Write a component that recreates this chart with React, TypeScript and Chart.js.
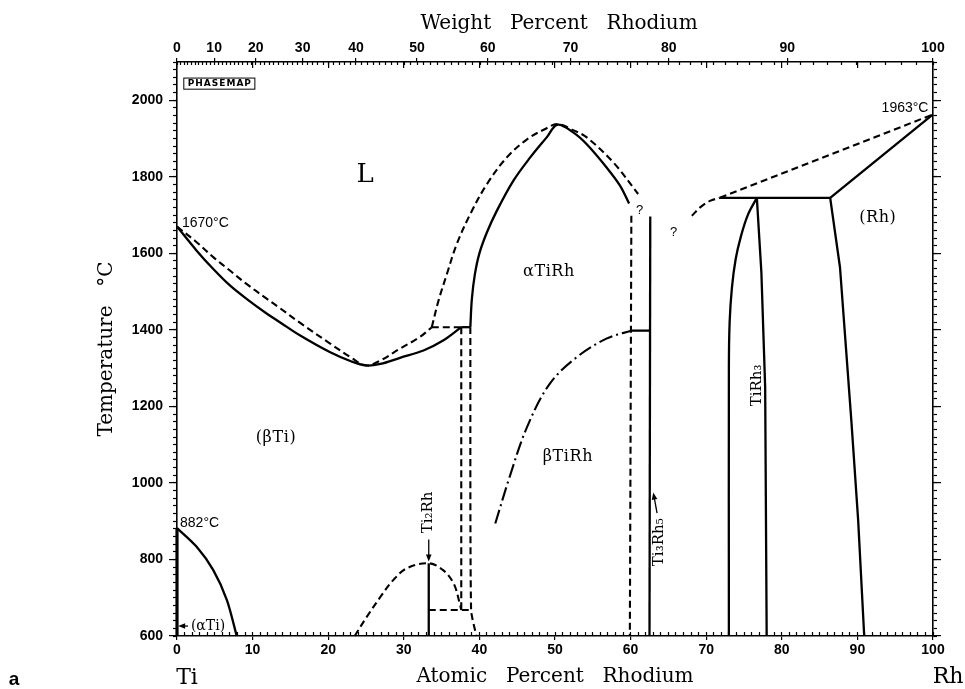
import React, { useEffect, useRef } from 'react';
import { Chart, registerables } from 'chart.js';

Chart.register(...registerables);

// ---------- axes ----------
const atomicTicks = [0, 10, 20, 30, 40, 50, 60, 70, 80, 90, 100];
const weightTicks = [0, 10, 20, 30, 40, 50, 60, 70, 80, 90, 100];
const temperatureTicks = [600, 800, 1000, 1200, 1400, 1600, 1800, 2000];
const MASS_TI = 47.867;
const MASS_RH = 102.906;

// ---------- phase boundaries (x: at.% Rh, t: °C) ----------
const liquidusLeftX = [0, 2.6, 4.8, 7.0, 9.2, 11.9, 13.6, 16.3, 20.2, 23.0, 25.0, 26.9, 29.5, 32.1, 33.7];
const liquidusLeftT = [1670, 1629, 1590, 1555, 1520, 1481, 1457, 1418, 1365, 1328, 1307, 1320, 1351, 1381, 1407];

const solidusLeftX = [0, 2.6, 4.8, 7.0, 9.2, 11.9, 13.6, 16.3, 20.2, 23.0, 25.0, 26.9, 29.5, 32.6, 35.2, 37.6];
const solidusLeftT = [1670, 1607, 1559, 1516, 1481, 1442, 1420, 1385, 1342, 1318, 1307, 1311, 1327, 1346, 1372, 1407];

const liquidusTiRhX = [33.7, 34.6, 35.7, 37.0, 38.8, 41.0, 43.6, 46.3, 48.9, 50.3, 52.4, 54.2, 57.7, 61.0];
const liquidusTiRhT = [1407, 1477, 1546, 1624, 1703, 1781, 1850, 1898, 1927, 1938, 1922, 1903, 1838, 1755];

const solidusTiRhX = [38.8, 39.0, 39.4, 40.0, 41.0, 42.3, 44.5, 46.7, 48.9, 50.3, 52.4, 54.2, 56.8, 58.6, 59.8];
const solidusTiRhT = [1407, 1480, 1545, 1600, 1655, 1711, 1790, 1850, 1903, 1936, 1916, 1885, 1825, 1777, 1730];

const peritecticDashX = [33.7, 37.6];
const peritecticDashT = [1407, 1407];
const peritecticSolidX = [37.6, 38.8];
const peritecticSolidT = [1407, 1407];

const ti2RhLeftX = [37.6, 37.6];
const ti2RhLeftT = [1407, 668];
const tiRhLeftX = [38.8, 38.9, 39.6];
const tiRhLeftT = [1407, 668, 600];

const ti2RhDomeX = [23.5, 25.1, 26.9, 28.6, 30.4, 33.3, 35.2, 36.6, 37.4, 37.6];
const ti2RhDomeT = [600, 650, 702, 746, 777, 790, 772, 737, 685, 668];
const ti2RhLineX = [33.3, 33.3];
const ti2RhLineT = [600, 790];
const eutectoidX = [33.3, 38.9];
const eutectoidT = [668, 668];

const alphaTiX = [0, 2.6, 4.8, 6.6, 7.9];
const alphaTiT = [882, 833, 772, 694, 600];
const alphaTiEdgeX = [0, 0];
const alphaTiEdgeT = [600, 882];

const betaTiRhX = [42.1, 44.0, 46.3, 49.3, 52.9, 56.8, 60.1];
const betaTiRhT = [894, 1016, 1146, 1259, 1329, 1377, 1398];
const transitionTieX = [60.1, 62.6];
const transitionTieT = [1398, 1398];

const tiRhRightX = [60.1, 59.9];
const tiRhRightT = [1698, 600];
const ti3Rh5X = [62.6, 62.5];
const ti3Rh5T = [1696, 600];

const tiRh3LeftX = [73.0, 73.0, 73.1, 73.4, 73.9, 74.6, 75.5, 76.7];
const tiRh3LeftT = [600, 1300, 1420, 1510, 1585, 1645, 1700, 1745];
const tiRh3RightX = [76.7, 77.3, 77.8, 78.0];
const tiRh3RightT = [1745, 1550, 1250, 600];

const peritecticRhX = [71.8, 86.4];
const peritecticRhT = [1745, 1745];
const rhSolvusX = [86.4, 87.7, 89.2, 90.1, 90.9];
const rhSolvusT = [1745, 1563, 1163, 903, 600];
const rhSolidusX = [86.4, 100];
const rhSolidusT = [1745, 1963];
const rhLiquidusCurveX = [68.1, 69.2, 70.5, 71.8];
const rhLiquidusCurveT = [1698, 1720, 1737, 1745];
const rhLiquidusX = [71.8, 100];
const rhLiquidusT = [1745, 1963];

type Style = 'solid' | 'dash' | 'dashdot' | 'heavy';
const curves: { x: number[]; t: number[]; style: Style; tension: number }[] = [
  { x: liquidusLeftX, t: liquidusLeftT, style: 'dash', tension: 0.35 },
  { x: solidusLeftX, t: solidusLeftT, style: 'solid', tension: 0.35 },
  { x: liquidusTiRhX, t: liquidusTiRhT, style: 'dash', tension: 0.35 },
  { x: solidusTiRhX, t: solidusTiRhT, style: 'solid', tension: 0.35 },
  { x: peritecticDashX, t: peritecticDashT, style: 'dash', tension: 0 },
  { x: peritecticSolidX, t: peritecticSolidT, style: 'solid', tension: 0 },
  { x: ti2RhLeftX, t: ti2RhLeftT, style: 'dash', tension: 0 },
  { x: tiRhLeftX, t: tiRhLeftT, style: 'dash', tension: 0.2 },
  { x: ti2RhDomeX, t: ti2RhDomeT, style: 'dash', tension: 0.35 },
  { x: ti2RhLineX, t: ti2RhLineT, style: 'solid', tension: 0 },
  { x: eutectoidX, t: eutectoidT, style: 'dash', tension: 0 },
  { x: alphaTiX, t: alphaTiT, style: 'solid', tension: 0.3 },
  { x: alphaTiEdgeX, t: alphaTiEdgeT, style: 'heavy', tension: 0 },
  { x: betaTiRhX, t: betaTiRhT, style: 'dashdot', tension: 0.35 },
  { x: transitionTieX, t: transitionTieT, style: 'solid', tension: 0 },
  { x: tiRhRightX, t: tiRhRightT, style: 'dash', tension: 0 },
  { x: ti3Rh5X, t: ti3Rh5T, style: 'solid', tension: 0 },
  { x: tiRh3LeftX, t: tiRh3LeftT, style: 'solid', tension: 0.35 },
  { x: tiRh3RightX, t: tiRh3RightT, style: 'solid', tension: 0 },
  { x: peritecticRhX, t: peritecticRhT, style: 'solid', tension: 0 },
  { x: rhSolvusX, t: rhSolvusT, style: 'solid', tension: 0 },
  { x: rhSolidusX, t: rhSolidusT, style: 'solid', tension: 0 },
  { x: rhLiquidusCurveX, t: rhLiquidusCurveT, style: 'dash', tension: 0.35 },
  { x: rhLiquidusX, t: rhLiquidusT, style: 'dash', tension: 0 },
];

// ---------- annotations ----------
const SERIF = '"DejaVu Serif", "Liberation Serif", serif';
const SANS = '"Liberation Sans", Arial, sans-serif';

type Note = { text: string; x: number; t: number; font: string; align?: CanvasTextAlign; rotate?: boolean; spacing?: number };
const notes: Note[] = [
  { text: 'L', x: 24.9, t: 1803, font: `26px ${SERIF}` },
  { text: 'αTiRh', x: 49.2, t: 1552, font: `16px ${SERIF}`, spacing: 0.6 },
  { text: '(βTi)', x: 13.1, t: 1119, font: `16px ${SERIF}`, spacing: 0.6 },
  { text: 'βTiRh', x: 51.7, t: 1067, font: `16px ${SERIF}`, spacing: 0.6 },
  { text: '(Rh)', x: 92.7, t: 1693, font: `16px ${SERIF}`, spacing: 0.6 },
  { text: '1670°C', x: 0.65, t: 1680, font: `14px ${SANS}`, align: 'left' },
  { text: '882°C', x: 0.4, t: 895, font: `14px ${SANS}`, align: 'left' },
  { text: '1963°C', x: 99.4, t: 1980, font: `14px ${SANS}`, align: 'right' },
  { text: '?', x: 61.2, t: 1711, font: `13px ${SANS}` },
  { text: '?', x: 65.7, t: 1655, font: `13px ${SANS}` },
  { text: '(αTi)', x: 4.1, t: 626, font: `14px ${SERIF}` },
  { text: 'Ti₂Rh', x: 33.2, t: 923, font: `15px ${SERIF}`, rotate: true },
  { text: 'Ti₃Rh₅', x: 63.8, t: 845, font: `15px ${SERIF}`, rotate: true },
  { text: 'TiRh₃', x: 76.7, t: 1255, font: `15px ${SERIF}`, rotate: true },
];

const arrows: { from: [number, number]; to: [number, number] }[] = [
  { from: [33.3, 852], to: [33.3, 795] },
  { from: [63.5, 921], to: [63.0, 975] },
  { from: [1.45, 626], to: [0.15, 626] },
];

const wtToAt = (w: number) => {
  const a = w / MASS_RH;
  const b = (100 - w) / MASS_TI;
  return (100 * a) / (a + b);
};

const everyStep = (from: number, to: number, step: number) => {
  const out: number[] = [];
  for (let v = from; v <= to + 1e-9; v += step) out.push(v);
  return out;
};

const labelPlugin = {
  id: 'phaseLabels',
  afterDatasetsDraw(chart: any) {
    const { ctx, scales } = chart;
    const sx = scales.x;
    const sy = scales.y;
    ctx.save();
    ctx.fillStyle = '#000';
    ctx.strokeStyle = '#000';

    for (const n of notes) {
      const px = sx.getPixelForValue(n.x);
      const py = sy.getPixelForValue(n.t);
      ctx.save();
      ctx.translate(px, py);
      if (n.rotate) ctx.rotate(-Math.PI / 2);
      ctx.font = n.font;
      (ctx as any).letterSpacing = `${n.spacing || 0}px`;
      ctx.textAlign = n.align || 'center';
      ctx.textBaseline = 'middle';
      ctx.fillText(n.text, 0, 0);
      ctx.restore();
    }

    for (const a of arrows) {
      const x1 = sx.getPixelForValue(a.from[0]);
      const y1 = sy.getPixelForValue(a.from[1]);
      const x2 = sx.getPixelForValue(a.to[0]);
      const y2 = sy.getPixelForValue(a.to[1]);
      const ang = Math.atan2(y2 - y1, x2 - x1);
      ctx.lineWidth = 1.3;
      ctx.beginPath();
      ctx.moveTo(x1, y1);
      ctx.lineTo(x2 - 4 * Math.cos(ang), y2 - 4 * Math.sin(ang));
      ctx.stroke();
      ctx.beginPath();
      ctx.moveTo(x2, y2);
      ctx.lineTo(x2 - 7 * Math.cos(ang) + 2.8 * Math.sin(ang), y2 - 7 * Math.sin(ang) - 2.8 * Math.cos(ang));
      ctx.lineTo(x2 - 7 * Math.cos(ang) - 2.8 * Math.sin(ang), y2 - 7 * Math.sin(ang) + 2.8 * Math.cos(ang));
      ctx.closePath();
      ctx.fill();
    }

    // PHASEMAP stamp
    const bx1 = sx.getPixelForValue(0.9);
    const bx2 = sx.getPixelForValue(10.3);
    const by1 = sy.getPixelForValue(2058);
    const by2 = sy.getPixelForValue(2029);
    ctx.lineWidth = 1;
    ctx.strokeRect(bx1, by1, bx2 - bx1, by2 - by1);
    ctx.font = `bold 9px "DejaVu Sans", sans-serif`;
    (ctx as any).letterSpacing = '1px';
    ctx.textAlign = 'center';
    ctx.textBaseline = 'middle';
    ctx.fillText('PHASEMAP', (bx1 + bx2) / 2 + 0.5, (by1 + by2) / 2 + 0.5);
    (ctx as any).letterSpacing = '0px';

    // axis titles and element names
    const ca = chart.chartArea;
    ctx.font = `20px ${SERIF}`;
    (ctx as any).wordSpacing = '3px';
    ctx.textAlign = 'center';
    ctx.textBaseline = 'alphabetic';
    ctx.fillText('Weight  Percent  Rhodium', (ca.left + ca.right) / 2 + 4, ca.top - 33);
    ctx.fillText('Atomic  Percent  Rhodium', (ca.left + ca.right) / 2, ca.bottom + 46);
    ctx.save();
    ctx.translate(ca.left - 65, (ca.top + ca.bottom) / 2);
    ctx.rotate(-Math.PI / 2);
    ctx.fillText('Temperature  °C', 0, 0);
    ctx.restore();
    (ctx as any).wordSpacing = '0px';
    ctx.font = `22px ${SERIF}`;
    ctx.fillText('Ti', ca.left + 10, ca.bottom + 48);
    ctx.fillText('Rh', ca.right + 15, ca.bottom + 47);
    ctx.font = `bold 19px ${SANS}`;
    ctx.fillText('a', 14, ca.bottom + 49);
    ctx.restore();
  },
};

const tickFont = { family: SANS, size: 14, weight: 'bold' as const };
const gridBase = { drawOnChartArea: false, drawTicks: true, color: '#000', lineWidth: 1.2, tickWidth: 1.2 };
const borderOn = { display: true, color: '#000', width: 1.6 };
const borderOff = { display: false };

export default function App() {
  const ref = useRef<HTMLCanvasElement>(null);

  useEffect(() => {
    const canvas = ref.current;
    if (!canvas) return;
    const datasets = curves.map((c) => ({
      data: c.x.map((v, i) => ({ x: v, y: c.t[i] })),
      showLine: true,
      borderColor: '#000',
      backgroundColor: '#000',
      borderWidth: c.style === 'heavy' ? 3.2 : c.style === 'solid' ? 2.3 : 2.1,
      borderDash: c.style === 'dash' ? [7, 4] : c.style === 'dashdot' ? [14, 4, 2, 4] : [],
      borderCapStyle: 'butt' as const,
      borderJoinStyle: 'round' as const,
      pointRadius: 0,
      pointHoverRadius: 0,
      tension: c.tension,
      fill: false,
      clip: 4,
    }));

    const chart = new Chart(canvas, {
      type: 'scatter',
      data: { datasets },
      plugins: [labelPlugin],
      options: {
        responsive: false,
        maintainAspectRatio: false,
        animation: false,
        events: [],
        layout: { padding: 0 },
        plugins: { legend: { display: false }, tooltip: { enabled: false }, title: { display: false } },
        scales: {
          x: {
            type: 'linear', position: 'bottom', min: 0, max: 100,
            afterBuildTicks: (s: any) => { s.ticks = atomicTicks.map((v) => ({ value: v })); },
            afterFit: (s: any) => { s.height = 53; },
            grid: { ...gridBase, tickLength: 4 },
            border: borderOn,
            ticks: { color: '#000', font: tickFont, padding: 2, autoSkip: false, maxRotation: 0, callback: (v: any) => String(v) },
          },
          xTop: {
            type: 'linear', position: 'top', min: 0, max: 100,
            afterBuildTicks: (s: any) => { s.ticks = weightTicks.map((w) => ({ value: wtToAt(w) })); },
            afterFit: (s: any) => { s.height = 62; },
            grid: { ...gridBase, tickLength: 4 },
            border: borderOn,
            ticks: { color: '#000', font: tickFont, padding: 1, autoSkip: false, maxRotation: 0, callback: (_v: any, i: number) => String(weightTicks[i]) },
          },
          y: {
            type: 'linear', position: 'left', min: 600, max: 2100,
            afterBuildTicks: (s: any) => { s.ticks = temperatureTicks.map((v) => ({ value: v })); },
            afterFit: (s: any) => { s.width = 177; },
            grid: { ...gridBase, tickLength: 8 },
            border: borderOn,
            ticks: { color: '#000', font: tickFont, padding: 6, autoSkip: false, callback: (v: any) => String(v) },
          },
          yRight: {
            type: 'linear', position: 'right', min: 600, max: 2100,
            afterBuildTicks: (s: any) => { s.ticks = everyStep(600, 2100, 20).map((v) => ({ value: v })); },
            afterFit: (s: any) => { s.width = 32; },
            grid: { ...gridBase, tickLength: 4, lineWidth: 1 },
            border: borderOn,
            ticks: { display: false, autoSkip: false },
          },
          yMajorRight: {
            axis: 'y', type: 'linear', position: { x: 101.06 }, min: 600, max: 2100,
            afterBuildTicks: (s: any) => { s.ticks = temperatureTicks.map((v) => ({ value: v })); },
            grid: { ...gridBase, tickLength: 8 },
            border: borderOff,
            ticks: { display: false, autoSkip: false },
          },
          yMinorLeft: {
            axis: 'y', type: 'linear', position: { x: 0 }, min: 600, max: 2100,
            afterBuildTicks: (s: any) => { s.ticks = everyStep(600, 2100, 20).map((v) => ({ value: v })); },
            grid: { ...gridBase, tickLength: 4, lineWidth: 1 },
            border: borderOff,
            ticks: { display: false, autoSkip: false },
          },
          xMinorBottom: {
            axis: 'x', type: 'linear', position: { y: 610.4 }, min: 0, max: 100,
            afterBuildTicks: (s: any) => { s.ticks = everyStep(0, 100, 1).map((v) => ({ value: v })); },
            grid: { ...gridBase, tickLength: 4, lineWidth: 1 },
            border: borderOff,
            ticks: { display: false, autoSkip: false },
          },
          xMinorTop: {
            axis: 'x', type: 'linear', position: { y: 2100 }, min: 0, max: 100,
            afterBuildTicks: (s: any) => { s.ticks = everyStep(0, 100, 1).map((w) => ({ value: wtToAt(w) })); },
            grid: { ...gridBase, tickLength: 3, lineWidth: 1 },
            border: borderOff,
            ticks: { display: false, autoSkip: false },
          },
          xAtomicTop: {
            axis: 'x', type: 'linear', position: { y: 2100 }, min: 0, max: 100,
            afterBuildTicks: (s: any) => { s.ticks = atomicTicks.map((v) => ({ value: v })); },
            grid: { ...gridBase, tickLength: 6 },
            border: borderOff,
            ticks: { display: false, autoSkip: false },
          },
        },
      } as any,
    });
    return () => chart.destroy();
  }, []);

  return (
    <div style={{ position: 'absolute', left: 0, top: 0, width: 965, height: 689, background: '#fff' }}>
      <canvas ref={ref} width={965} height={689} style={{ display: 'block', width: 965, height: 689 }} />
    </div>
  );
}
